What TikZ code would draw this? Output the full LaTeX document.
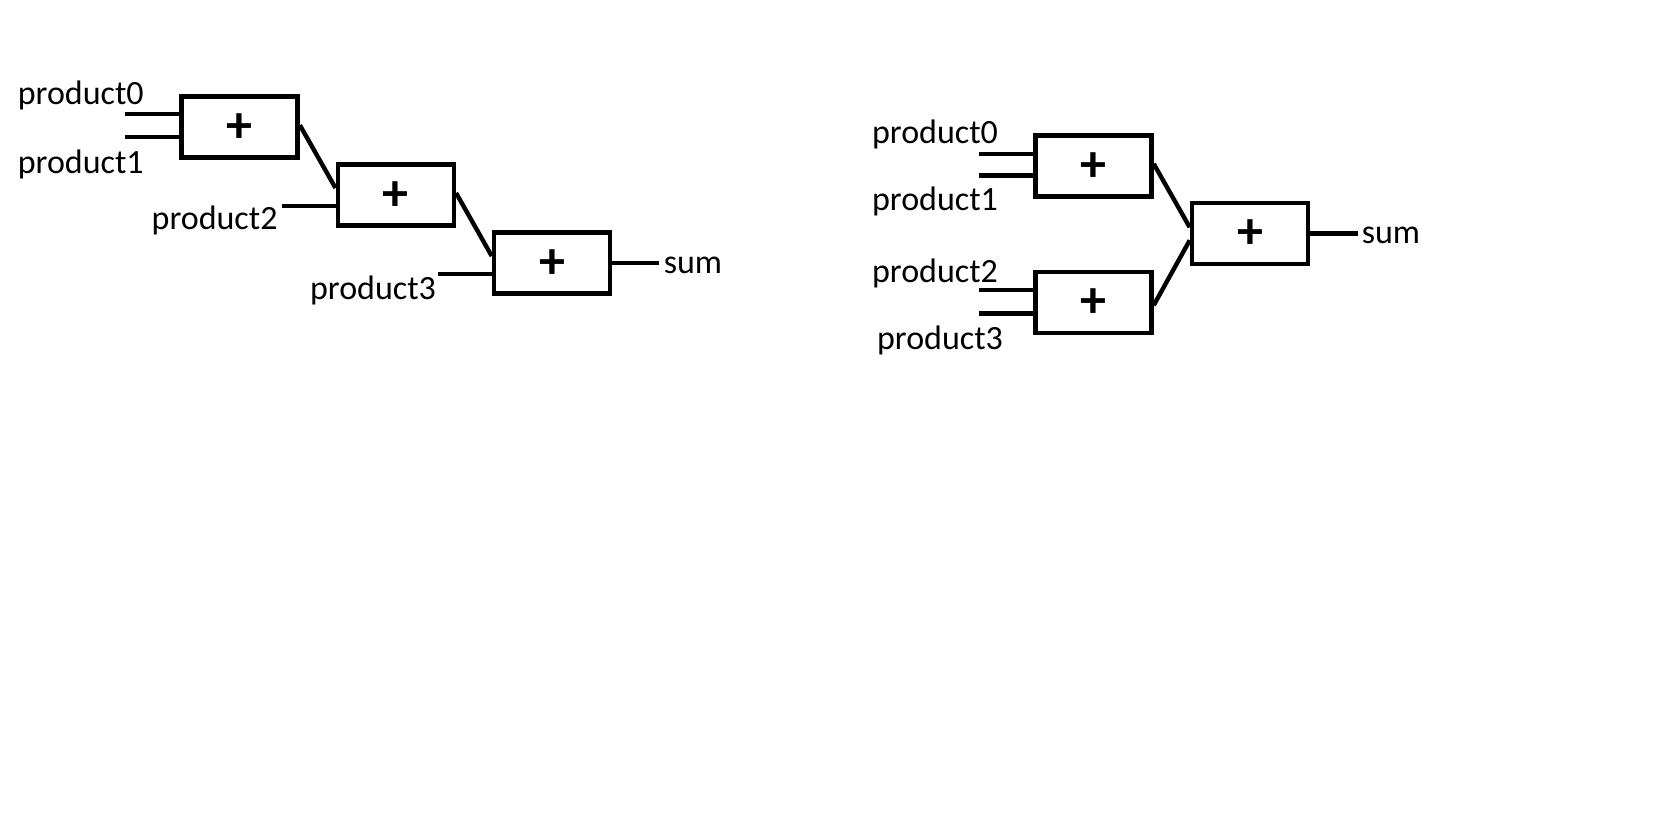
\documentclass[tikz,border=0pt]{standalone}
\usepackage{fontspec}
\setmainfont{Carlito}
\usepackage{tikz}
\usetikzlibrary{calc}
\tikzset{
  addbox/.style={draw=black, line width=4.6pt, minimum width=116pt, minimum height=61pt,
      inner sep=0pt, text height=31pt, text depth=-11pt,
      font=\fontsize{52}{56}\selectfont\bfseries},
  sig/.style={font=\fontsize{34}{40}\selectfont, inner sep=0pt},
  wire/.style={black, line width=4.4pt},
}

\begin{document}
\begin{tikzpicture}[x=1pt, y=-1pt]
 \useasboundingbox (0,0) rectangle (1666,833);
 % chain of adders
 \node[addbox] (addA) at (239.6,127.2) {+};
 \node[addbox] (addB) at (395.8,195) {+};
 \node[addbox] (addC) at (552,263) {+};
 \node[sig] (lA0) at (80.8,95.5) {product0};
 \node[sig] (lA1) at (80.8,164.6) {product1};
 \node[sig] (lA2) at (214.6,220.9) {product2};
 \node[sig] (lA3) at (373,290) {product3};
 \node[sig] (lAs) at (693,265.5) {sum};
 \coordinate (inA0) at (125.4,114);
 \coordinate (inA1) at (125.4,137);
 \coordinate (inA2) at (281.6,206);
 \coordinate (inA3) at (437.8,274);
 \coordinate (outA) at (658.8,263);
 \draw[wire] (inA0) -- (inA0 -| addA.west);
 \draw[wire] (inA1) -- (inA1 -| addA.west);
 \draw[wire] (inA2) -- (inA2 -| addB.west);
 \draw[wire] (inA3) -- (inA3 -| addC.west);
 \draw[wire] ([yshift=2pt]addA.east) -- ([yshift=7pt]addB.west);
 \draw[wire] ([yshift=2pt]addB.east) -- ([yshift=7pt]addC.west);
 \draw[wire] (addC.east) -- (outA);
 % tree of adders
 \node[addbox] (addD) at (1093.4,165.8) {+};
 \node[addbox] (addE) at (1093.4,302.3) {+};
 \node[addbox] (addF) at (1250,233.3) {+};
 \node[sig] (lB0) at (935,134.8) {product0};
 \node[sig] (lB1) at (935,201.8) {product1};
 \node[sig] (lB2) at (935,273) {product2};
 \node[sig] (lB3) at (940,340) {product3};
 \node[sig] (lBs) at (1391,235.8) {sum};
 \coordinate (inB0) at (978.6,154);
 \coordinate (inB1) at (978.6,175.3);
 \coordinate (inB2) at (978.6,290);
 \coordinate (inB3) at (978.6,313.4);
 \coordinate (outB) at (1358,233.3);
 \draw[wire] (inB0) -- (inB0 -| addD.west);
 \draw[wire] (inB1) -- (inB1 -| addD.west);
 \draw[wire] (inB2) -- (inB2 -| addE.west);
 \draw[wire] (inB3) -- (inB3 -| addE.west);
 \draw[wire] ([yshift=2pt]addD.east) -- ([yshift=6pt]addF.west);
 \draw[wire] ([yshift=-3pt]addE.east) -- ([yshift=-7pt]addF.west);
 \draw[wire] (addF.east) -- (outB);
\end{tikzpicture}
\end{document}
